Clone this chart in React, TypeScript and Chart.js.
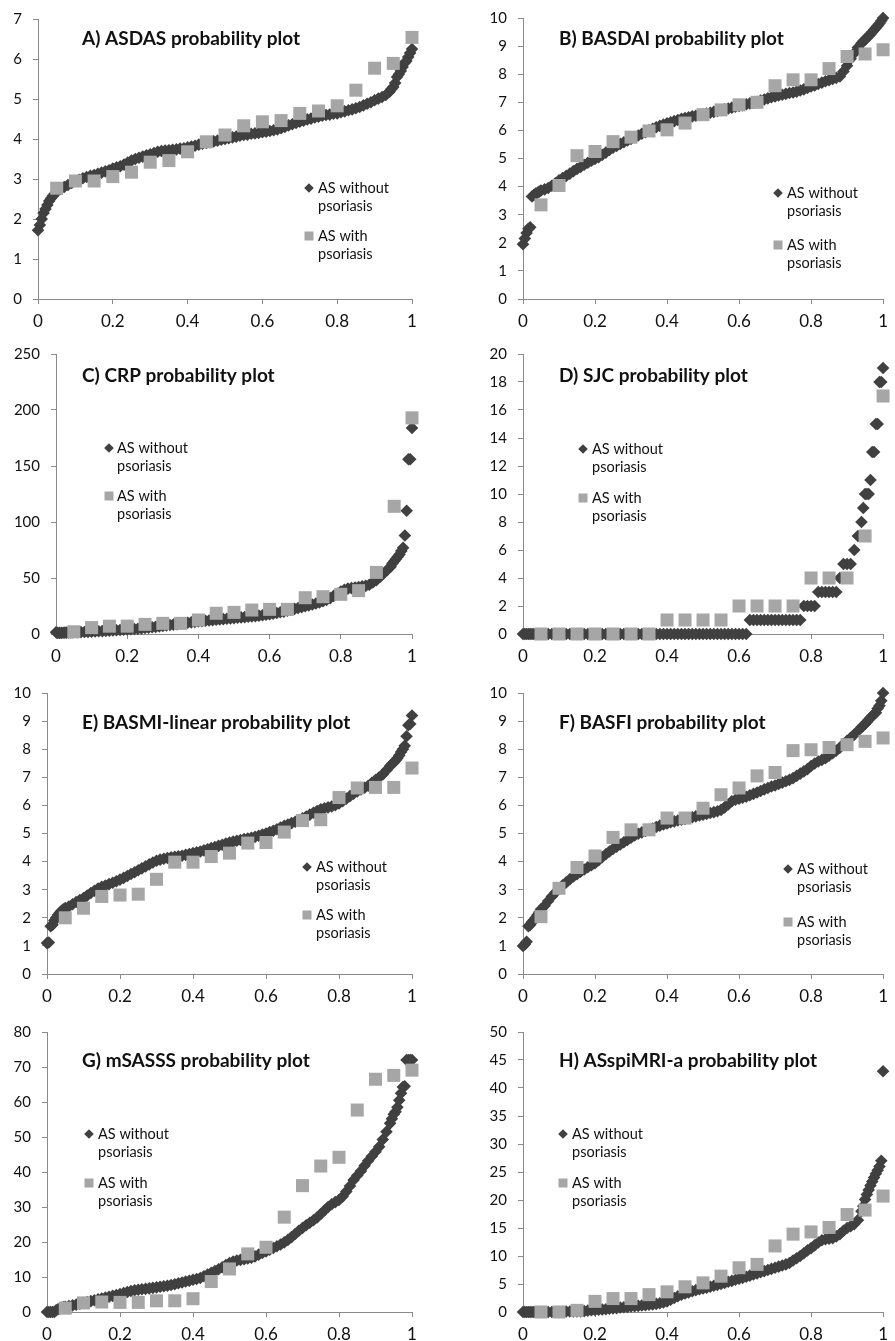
import React, { useEffect, useRef } from 'react';
import { Chart, registerables } from 'chart.js';

Chart.register(...registerables);

// Cumulative probability positions of the dense "AS without psoriasis" series
const probDense = [
  0, 0.005, 0.01, 0.015, 0.02, 0.025, 0.03, 0.035, 0.04, 0.045, 0.05,
  0.06, 0.07, 0.08, 0.09, 0.1,
  0.11, 0.12, 0.13, 0.14, 0.15, 0.16, 0.17, 0.18, 0.19, 0.2,
  0.21, 0.22, 0.23, 0.24, 0.25, 0.26, 0.27, 0.28, 0.29, 0.3,
  0.31, 0.32, 0.33, 0.34, 0.35, 0.36, 0.37, 0.38, 0.39, 0.4,
  0.41, 0.42, 0.43, 0.44, 0.45, 0.46, 0.47, 0.48, 0.49, 0.5,
  0.51, 0.52, 0.53, 0.54, 0.55, 0.56, 0.57, 0.58, 0.59, 0.6,
  0.61, 0.62, 0.63, 0.64, 0.65, 0.66, 0.67, 0.68, 0.69, 0.7,
  0.71, 0.72, 0.73, 0.74, 0.75, 0.76, 0.77, 0.78, 0.79, 0.8,
  0.81, 0.82, 0.83, 0.84, 0.85, 0.86, 0.87, 0.88, 0.89, 0.9,
  0.91, 0.92, 0.93, 0.94,
  0.945, 0.95, 0.955, 0.96, 0.965, 0.97, 0.975, 0.98, 0.985, 0.99, 0.995, 1,
];

// Cumulative probability positions of the "AS with psoriasis" series
const probPso = [0.05, 0.1, 0.15, 0.2, 0.25, 0.3, 0.35, 0.4, 0.45, 0.5, 0.55, 0.6, 0.65, 0.7, 0.75, 0.8, 0.85, 0.9, 0.95, 1];

const xTicks = [0, 0.2, 0.4, 0.6, 0.8, 1];

// A) ASDAS
const asdasWithout = [
  1.72, 1.85, 2.0, 2.15, 2.25, 2.35, 2.45, 2.52, 2.58, 2.63, 2.68,
  2.75, 2.8, 2.85, 2.9, 2.95,
  2.98, 3.02, 3.05, 3.08, 3.1, 3.13, 3.16, 3.19, 3.22, 3.26,
  3.29, 3.32, 3.36, 3.41, 3.46, 3.5, 3.53, 3.56, 3.59, 3.62,
  3.65, 3.68, 3.7, 3.71, 3.72, 3.73, 3.74, 3.76, 3.77, 3.79,
  3.81, 3.83, 3.86, 3.88, 3.9, 3.92, 3.94, 3.96, 3.98, 4.0,
  4.02, 4.04, 4.06, 4.08, 4.1, 4.11, 4.13, 4.14, 4.15, 4.17,
  4.18, 4.2, 4.22, 4.24, 4.27, 4.3, 4.34, 4.37, 4.4, 4.43,
  4.46, 4.49, 4.51, 4.54, 4.56, 4.58, 4.6, 4.61, 4.63, 4.64,
  4.67, 4.69, 4.72, 4.74, 4.77, 4.8, 4.84, 4.88, 4.92, 4.97,
  5.01, 5.05, 5.1, 5.18,
  5.25, 5.3, 5.4, 5.55, 5.62, 5.7, 5.8, 5.9, 5.95, 6.05, 6.15, 6.25,
];
const asdasWith = [2.77, 2.95, 2.95, 3.06, 3.17, 3.42, 3.46, 3.68, 3.93, 4.1, 4.33, 4.43, 4.46, 4.64, 4.7, 4.83, 5.22, 5.77, 5.89, 6.54];

// B) BASDAI
const basdaiWithout = [
  1.95, 2.15, 2.35, 2.5, 2.55, 3.65, 3.7, 3.75, 3.78, 3.82, 3.86,
  3.9, 3.95, 4.03, 4.12, 4.22,
  4.3, 4.38, 4.46, 4.55, 4.63, 4.7, 4.78, 4.85, 4.92, 4.98,
  5.05, 5.13, 5.21, 5.3, 5.38, 5.45, 5.52, 5.58, 5.64, 5.7,
  5.76, 5.82, 5.88, 5.94, 6.0, 6.06, 6.11, 6.16, 6.21, 6.25,
  6.29, 6.33, 6.37, 6.41, 6.44, 6.47, 6.5, 6.52, 6.55, 6.57,
  6.6, 6.63, 6.66, 6.69, 6.72, 6.75, 6.78, 6.81, 6.84, 6.87,
  6.9, 6.93, 6.96, 6.99, 7.02, 7.06, 7.1, 7.14, 7.18, 7.21,
  7.24, 7.27, 7.3, 7.33, 7.35, 7.38, 7.42, 7.46, 7.51, 7.56,
  7.6, 7.65, 7.7, 7.75, 7.79, 7.83, 7.87, 7.92, 8.1, 8.3,
  8.55, 8.75, 8.95, 9.1,
  9.17, 9.23, 9.3, 9.36, 9.42, 9.5, 9.58, 9.65, 9.72, 9.8, 9.9, 10,
];
const basdaiWith = [3.35, 4.04, 5.1, 5.25, 5.6, 5.76, 5.98, 6.02, 6.26, 6.56, 6.73, 6.91, 7.0, 7.59, 7.8, 7.8, 8.2, 8.63, 8.72, 8.87];

// C) CRP
const crpWithout = [
  1.5, 1, 1, 1, 1.1, 1.2, 1.2, 1.3, 1.3, 1.4, 1.5,
  1.6, 1.7, 1.8, 1.9, 2.0,
  2.2, 2.4, 2.6, 2.8, 3.0, 3.2, 3.4, 3.6, 3.8, 4.0,
  4.2, 4.4, 4.7, 5.0, 5.3, 5.6, 6.0, 6.4, 6.8, 7.2,
  7.6, 8.0, 8.4, 8.8, 9.2, 9.6, 10.0, 10.4, 10.8, 11.2,
  11.5, 11.8, 12.1, 12.4, 12.7, 13.0, 13.3, 13.6, 13.9, 14.2,
  14.5, 14.8, 15.1, 15.4, 15.7, 16.0, 16.4, 16.8, 17.2, 17.6,
  18.2, 18.8, 19.4, 20.0, 20.8, 21.6, 22.4, 23.2, 24.0, 24.8,
  25.6, 26.4, 27.2, 28.2, 29.2, 30.5, 32, 34, 36, 38,
  39.5, 40.5, 41, 41.5, 42, 42.5, 43, 44, 46, 48,
  51, 54, 57, 60,
  63, 65, 67, 69, 71, 74, 77, 88, 110, 156, 156, 184,
];
const crpWith = [2, 5.7, 7, 7, 8.6, 9.5, 9.5, 12.5, 18.5, 19.3, 21.4, 22, 22, 32.4, 33.3, 35.4, 38.7, 55, 114, 193];

// D) SJC
const sjcWithout = [
  0, 0, 0, 0, 0, 0, 0, 0, 0, 0, 0,
  0, 0, 0, 0, 0,
  0, 0, 0, 0, 0, 0, 0, 0, 0, 0,
  0, 0, 0, 0, 0, 0, 0, 0, 0, 0,
  0, 0, 0, 0, 0, 0, 0, 0, 0, 0,
  0, 0, 0, 0, 0, 0, 0, 0, 0, 0,
  0, 0, 0, 0, 0, 0, 0, 0, 0, 0,
  0, 0, 1, 1, 1, 1, 1, 1, 1, 1,
  1, 1, 1, 1, 1, 1, 1, 2, 2, 2,
  2, 3, 3, 3, 3, 3, 3, 4, 5, 5,
  5, 6, 7, 8,
  9, 10, 10, 10, 11, 13, 13, 15, 15, 18, 18, 19,
];
const sjcWith = [0, 0, 0, 0, 0, 0, 0, 1, 1, 1, 1, 2, 2, 2, 2, 4, 4, 4, 7, 17];

// E) BASMI-linear
const basmiWithout = [
  1.1, 1.12, 1.7, 1.75, 1.9, 2.0, 2.1, 2.18, 2.25, 2.3, 2.35,
  2.4, 2.48, 2.56, 2.63, 2.7,
  2.79, 2.88, 2.96, 3.04, 3.1, 3.15, 3.2, 3.25, 3.3, 3.36,
  3.42, 3.49, 3.56, 3.62, 3.69, 3.76, 3.83, 3.9, 3.97, 4.03,
  4.07, 4.1, 4.13, 4.15, 4.17, 4.19, 4.21, 4.24, 4.27, 4.3,
  4.33, 4.36, 4.4, 4.44, 4.48, 4.52, 4.56, 4.6, 4.64, 4.68,
  4.71, 4.74, 4.77, 4.8, 4.82, 4.85, 4.88, 4.92, 4.96, 5.0,
  5.05, 5.1, 5.15, 5.21, 5.27, 5.32, 5.37, 5.42, 5.48, 5.54,
  5.6, 5.67, 5.74, 5.8, 5.86, 5.9, 5.93, 5.96, 6.01, 6.07,
  6.15, 6.24, 6.33, 6.42, 6.5, 6.57, 6.63, 6.7, 6.8, 6.9,
  7.0, 7.1, 7.25, 7.4,
  7.47, 7.53, 7.6, 7.68, 7.78, 7.9, 8.0, 8.12, 8.46, 8.85, 8.9, 9.2,
];
const basmiWith = [2.0, 2.34, 2.76, 2.81, 2.84, 3.37, 3.98, 3.98, 4.18, 4.3, 4.66, 4.68, 5.05, 5.46, 5.49, 6.28, 6.62, 6.64, 6.64, 7.33];

// F) BASFI
const basfiWithout = [
  1.0, 1.05, 1.15, 1.7, 1.75, 1.85, 1.92, 2.0, 2.1, 2.2, 2.3,
  2.43, 2.6, 2.76, 2.9, 3.05,
  3.16, 3.26, 3.37, 3.47, 3.55, 3.64, 3.72, 3.8, 3.87, 3.94,
  4.05, 4.16, 4.26, 4.36, 4.45, 4.53, 4.61, 4.69, 4.77, 4.85,
  4.93, 4.99, 5.04, 5.09, 5.13, 5.18, 5.23, 5.28, 5.32, 5.36,
  5.4, 5.43, 5.46, 5.49, 5.52, 5.55, 5.58, 5.61, 5.64, 5.67,
  5.7, 5.73, 5.76, 5.79, 5.84, 5.93, 6.03, 6.15, 6.2, 6.24,
  6.27, 6.31, 6.36, 6.41, 6.46, 6.51, 6.57, 6.62, 6.67, 6.71,
  6.76, 6.81, 6.86, 6.91, 6.97, 7.05, 7.13, 7.21, 7.29, 7.4,
  7.49, 7.56, 7.62, 7.68, 7.77, 7.86, 7.95, 8.05, 8.18, 8.3,
  8.41, 8.52, 8.65, 8.78,
  8.84, 8.9, 8.97, 9.05, 9.12, 9.18, 9.25, 9.3, 9.45, 9.55, 9.72, 10,
];
const basfiWith = [2.04, 3.05, 3.79, 4.2, 4.86, 5.13, 5.13, 5.55, 5.55, 5.9, 6.38, 6.62, 7.05, 7.17, 7.95, 7.98, 8.06, 8.16, 8.28, 8.4];

// G) mSASSS
const msasssWithout = [
  0, 0, 0, 0, 0, 0.5, 0.8, 1.0, 1.2, 1.4, 1.5,
  1.7, 1.9, 2.1, 2.35, 2.6,
  2.85, 3.1, 3.35, 3.6, 3.85, 4.1, 4.35, 4.6, 4.85, 5.1,
  5.4, 5.7, 6.0, 6.2, 6.35, 6.5, 6.6, 6.75, 6.9, 7.05,
  7.2, 7.35, 7.5, 7.7, 7.95, 8.2, 8.45, 8.7, 8.95, 9.2,
  9.45, 9.7, 10.2, 10.7, 11.2, 11.7, 12.2, 12.8, 13.4, 14.0,
  14.4, 14.7, 14.9, 15.1, 15.3, 15.5, 15.9, 16.4, 16.9, 17.3,
  17.8, 18.3, 18.8, 19.3, 19.9, 20.6, 21.4, 22.3, 23.2, 24.0,
  24.8, 25.5, 26.2, 27.0, 28.0, 29.0, 30.0, 30.8, 31.4, 32.0,
  33.0, 34.4, 36.0, 37.7, 39.0, 40.3, 41.8, 43.2, 44.5, 45.8,
  47.2, 49.3, 51.5, 53.9,
  55.2, 56.5, 57.2, 58.5, 60.5, 62.5, 64.3, 64.5, 72, 72, 72, 72,
];
const msasssWith = [1.1, 2.6, 2.85, 2.75, 2.75, 3.2, 3.2, 3.8, 8.7, 12.3, 16.6, 18.5, 27.1, 36.1, 41.7, 44.2, 57.7, 66.5, 67.6, 69.1];

// H) ASspiMRI-a
const asspiWithout = [
  0, 0, 0, 0, 0, 0, 0, 0, 0, 0, 0,
  0, 0, 0, 0, 0,
  0.05, 0.1, 0.1, 0.1, 0.1, 0.1, 0.15, 0.25, 0.3, 0.35,
  0.4, 0.45, 0.5, 0.6, 0.65, 0.7, 0.8, 0.85, 0.9, 1.0,
  1.05, 1.1, 1.15, 1.2, 1.3, 1.35, 1.45, 1.55, 1.7, 1.9,
  2.2, 2.5, 2.8, 3.1, 3.3, 3.5, 3.7, 3.9, 4.05, 4.2,
  4.35, 4.5, 4.7, 4.85, 5.0, 5.2, 5.4, 5.55, 5.75, 5.95,
  6.1, 6.3, 6.5, 6.7, 6.9, 7.1, 7.3, 7.5, 7.7, 7.9,
  8.1, 8.3, 8.5, 8.75, 9.2, 9.6, 10.0, 10.5, 11.0, 11.4,
  11.9, 12.4, 12.8, 13.0, 13.1, 13.2, 13.5, 13.9, 14.5, 15.0,
  15.3, 15.7, 16.4, 18.0,
  18.9, 20.1, 21.0, 21.8, 22.6, 23.3, 24.0, 24.7, 25.3, 26.0, 27.0, 43,
];
const asspiWith = [0, 0, 0.3, 1.9, 2.4, 2.4, 3.1, 3.6, 4.5, 5.2, 6.4, 7.9, 8.5, 11.8, 13.9, 14.3, 15.1, 17.4, 18.2, 20.7];

const legendLabels = [['AS without', 'psoriasis'], ['AS with', 'psoriasis']];

const DARK = '#404040';
const LIGHT = '#a6a6a6';
const AXIS = '#8a8a8a';
const TEXT = '#111111';
const FONT = 'Lato, "Open Sans", sans-serif';

type PanelDef = {
  title: string;
  without: number[];
  withP: number[];
  yMax: number;
  yStep: number;
  plot: { L: number; T: number; R: number; B: number };
  titlePos: { x: number; y: number };
  legend: { mx: number; y1: number; tx: number; y2: number };
};

const panels: PanelDef[] = [
  { title: 'A) ASDAS probability plot', without: asdasWithout, withP: asdasWith, yMax: 7, yStep: 1,
    plot: { L: 38, T: 19, R: 412, B: 299 }, titlePos: { x: 82, y: 45 }, legend: { mx: 309, y1: 188, tx: 318, y2: 236 } },
  { title: 'B) BASDAI probability plot', without: basdaiWithout, withP: basdaiWith, yMax: 10, yStep: 1,
    plot: { L: 523, T: 18, R: 888, B: 299 }, titlePos: { x: 559, y: 45 }, legend: { mx: 778, y1: 193, tx: 787, y2: 245 } },
  { title: 'C) CRP probability plot', without: crpWithout, withP: crpWith, yMax: 250, yStep: 50,
    plot: { L: 56, T: 354, R: 412, B: 634 }, titlePos: { x: 82, y: 382 }, legend: { mx: 109, y1: 448, tx: 117, y2: 496 } },
  { title: 'D) SJC probability plot', without: sjcWithout, withP: sjcWith, yMax: 20, yStep: 2,
    plot: { L: 523, T: 354, R: 888, B: 634 }, titlePos: { x: 559, y: 382 }, legend: { mx: 583, y1: 449, tx: 592, y2: 498 } },
  { title: 'E) BASMI-linear probability plot', without: basmiWithout, withP: basmiWith, yMax: 10, yStep: 1,
    plot: { L: 47, T: 693, R: 412, B: 974 }, titlePos: { x: 82, y: 729 }, legend: { mx: 307, y1: 867, tx: 316, y2: 915 } },
  { title: 'F) BASFI probability plot', without: basfiWithout, withP: basfiWith, yMax: 10, yStep: 1,
    plot: { L: 523, T: 693, R: 888, B: 974 }, titlePos: { x: 559, y: 729 }, legend: { mx: 788, y1: 869, tx: 797, y2: 922 } },
  { title: 'G) mSASSS probability plot', without: msasssWithout, withP: msasssWith, yMax: 80, yStep: 10,
    plot: { L: 47, T: 1032, R: 412, B: 1312 }, titlePos: { x: 82, y: 1067 }, legend: { mx: 89, y1: 1134, tx: 98, y2: 1183 } },
  { title: 'H) ASspiMRI-a probability plot', without: asspiWithout, withP: asspiWith, yMax: 50, yStep: 5,
    plot: { L: 523, T: 1032, R: 888, B: 1312 }, titlePos: { x: 559, y: 1067 }, legend: { mx: 563, y1: 1134, tx: 572, y2: 1183 } },
];

const PAD_TOP = 20;
const X_AXIS_H = 36;

const decorPlugin = {
  id: 'decor',
  afterDraw(chart: any, _args: any, opts: any) {
    const ctx = chart.ctx as CanvasRenderingContext2D;
    ctx.save();
    ctx.textAlign = 'left';
    ctx.textBaseline = 'alphabetic';
    ctx.fillStyle = TEXT;
    ctx.font = `bold 19px ${FONT}`;
    ctx.fillText(opts.title, opts.titleX, opts.titleY);

    ctx.font = `14.5px ${FONT}`;
    const lineGap = 18;
    // entry 1: diamond
    const d = 4.8;
    ctx.fillStyle = DARK;
    ctx.beginPath();
    ctx.moveTo(opts.mx - d, opts.y1);
    ctx.lineTo(opts.mx, opts.y1 - d);
    ctx.lineTo(opts.mx + d, opts.y1);
    ctx.lineTo(opts.mx, opts.y1 + d);
    ctx.closePath();
    ctx.fill();
    ctx.fillStyle = TEXT;
    ctx.fillText(legendLabels[0][0], opts.tx, opts.y1 + 5);
    ctx.fillText(legendLabels[0][1], opts.tx, opts.y1 + 5 + lineGap);
    // entry 2: square
    ctx.fillStyle = LIGHT;
    ctx.fillRect(opts.mx - 4.5, opts.y2 - 4.5, 9, 9);
    ctx.fillStyle = TEXT;
    ctx.fillText(legendLabels[1][0], opts.tx, opts.y2 + 5);
    ctx.fillText(legendLabels[1][1], opts.tx, opts.y2 + 5 + lineGap);
    ctx.restore();
  },
};

function Panel({ p }: { p: PanelDef }) {
  const ref = useRef<HTMLCanvasElement | null>(null);
  const colX = p.plot.L > 450 ? 470 : 0;
  const colW = colX ? 425 : 440;
  const top = p.plot.T - PAD_TOP;
  const height = p.plot.B + X_AXIS_H - top;
  const yW = p.plot.L - colX;
  const padRight = colX + colW - p.plot.R;

  useEffect(() => {
    if (!ref.current) return;
    const chart = new Chart(ref.current, {
      type: 'scatter',
      data: {
        datasets: [
          {
            label: 'AS with psoriasis',
            data: probPso.map((x, i) => ({ x, y: p.withP[i] })),
            pointStyle: 'rect',
            pointRadius: 9.2,
            pointHoverRadius: 9.2,
            backgroundColor: LIGHT,
            borderColor: LIGHT,
            borderWidth: 0,
            order: 0,
            clip: false,
          } as any,
          {
            label: 'AS without psoriasis',
            data: probDense.map((x, i) => ({ x, y: p.without[i] })),
            pointStyle: 'rectRot',
            pointRadius: 6.3,
            pointHoverRadius: 6.3,
            backgroundColor: DARK,
            borderColor: DARK,
            borderWidth: 0,
            order: 1,
            clip: false,
          } as any,
        ],
      },
      options: {
        animation: false,
        responsive: false,
        events: [],
        layout: { padding: { top: PAD_TOP, right: padRight, left: 0, bottom: 0 } },
        plugins: {
          legend: { display: false },
          tooltip: { enabled: false },
          decor: {
            title: p.title,
            titleX: p.titlePos.x - colX,
            titleY: p.titlePos.y - top,
            mx: p.legend.mx - colX,
            tx: p.legend.tx - colX,
            y1: p.legend.y1 - top,
            y2: p.legend.y2 - top,
          },
        } as any,
        scales: {
          x: {
            type: 'linear',
            min: 0,
            max: 1,
            afterFit: (s: any) => { s.height = X_AXIS_H; },
            afterBuildTicks: (s: any) => { s.ticks = xTicks.map((v) => ({ value: v })); },
            ticks: {
              color: TEXT,
              font: { family: FONT, size: 17 },
              padding: 7,
              maxRotation: 0,
              autoSkip: false,
              callback: (v: any) => String(Number(Number(v).toFixed(1))),
            },
            grid: { display: true, drawOnChartArea: false, drawTicks: true, tickLength: 5, color: AXIS, lineWidth: 1 },
            border: { display: true, color: AXIS, width: 1 },
          },
          y: {
            type: 'linear',
            min: 0,
            max: p.yMax,
            afterFit: (s: any) => { s.width = yW; },
            ticks: {
              stepSize: p.yStep,
              color: TEXT,
              font: { family: FONT, size: 15 },
              padding: 11,
              autoSkip: false,
            },
            grid: { display: true, drawOnChartArea: false, drawTicks: true, tickLength: 5, color: AXIS, lineWidth: 1 },
            border: { display: true, color: AXIS, width: 1 },
          },
        },
      },
      plugins: [decorPlugin as any],
    });
    return () => chart.destroy();
  }, []);

  return (
    <canvas
      ref={ref}
      width={colW}
      height={height}
      style={{ position: 'absolute', left: colX, top, width: colW, height }}
    />
  );
}

export default function App() {
  return (
    <div style={{ position: 'absolute', left: 0, top: 0, width: 895, height: 1341, overflow: 'hidden', background: '#ffffff' }}>
      {panels.map((p) => (
        <Panel key={p.title} p={p} />
      ))}
    </div>
  );
}
